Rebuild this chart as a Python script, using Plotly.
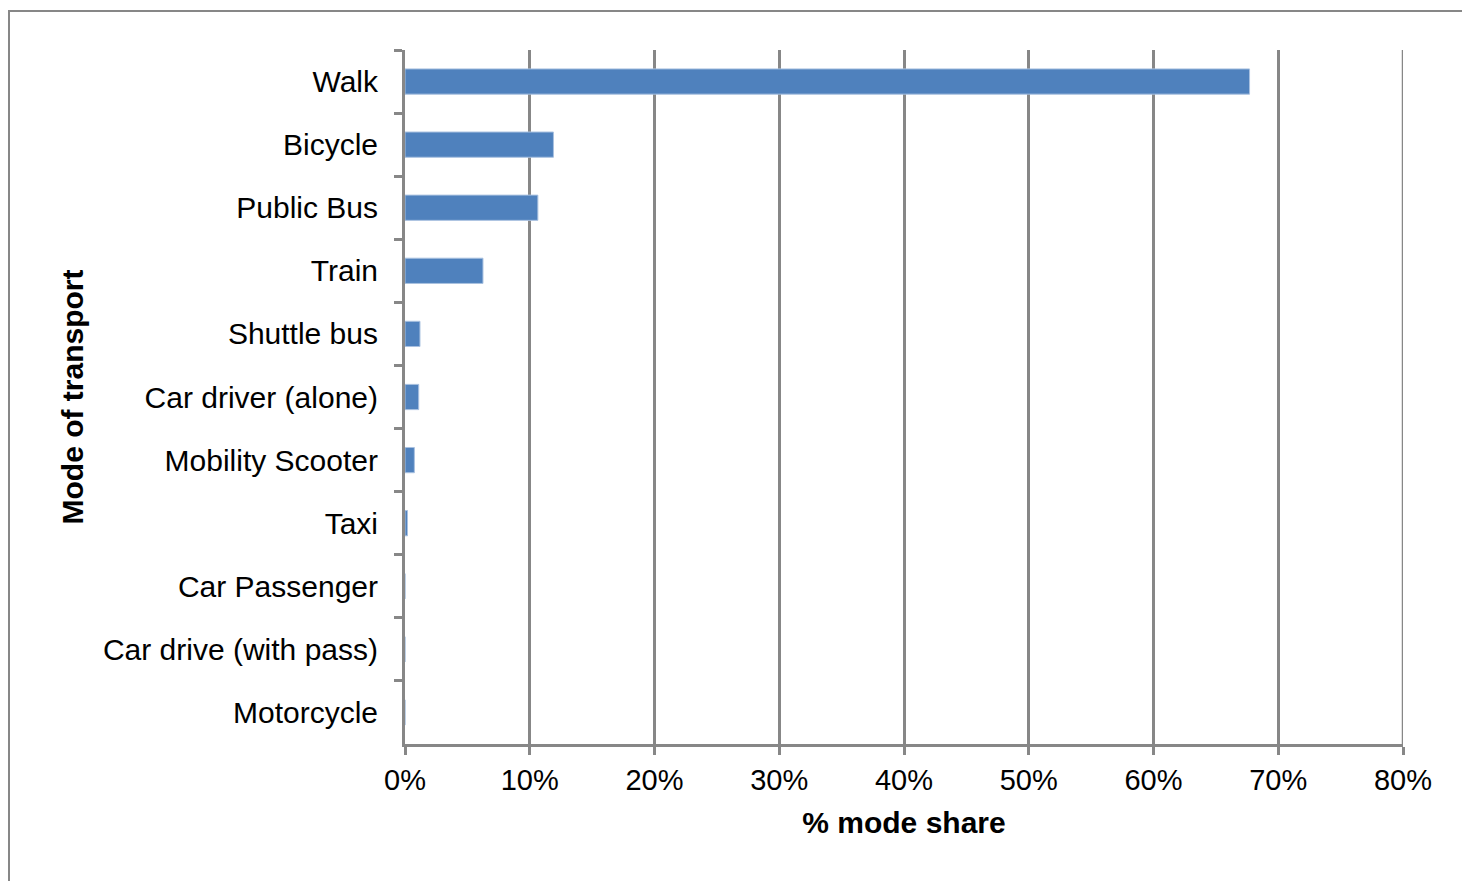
import plotly.graph_objects as go

categories = ["Walk", "Bicycle", "Public Bus", "Train", "Shuttle bus",
              "Car driver (alone)", "Mobility Scooter", "Taxi",
              "Car Passenger", "Car drive (with pass)", "Motorcycle"]
mode_share = [67.7, 11.9, 10.65, 6.25, 1.2, 1.1, 0.75, 0.2, 0.0, 0.0, 0.0]
x_ticks = [0, 10, 20, 30, 40, 50, 60, 70, 80]
x_tick_labels = [f"{v}%" for v in x_ticks]

FONT = "Liberation Sans, Arial, sans-serif"
GRAY = "#878787"

fig = go.Figure(go.Bar(
    y=categories, x=mode_share, orientation="h",
    marker=dict(color="#4F81BD", line=dict(color="#A9C1E0", width=1)),
))

fig.update_layout(
    width=1470, height=881,
    margin=dict(l=397, r=75, t=42, b=145),
    paper_bgcolor="white", plot_bgcolor="white",
    bargap=0.6, showlegend=False,
    font=dict(family=FONT, size=29, color="black"),
    shapes=[
        dict(type="rect", xref="paper", yref="paper",
             x0=-0.3968, x1=1.2, y0=-0.3, y1=1.0562,
             line=dict(color=GRAY, width=2), fillcolor="rgba(0,0,0,0)",
             layer="below"),
        dict(type="line", xref="x", yref="paper",
             x0=x_ticks[-1], x1=x_ticks[-1], y0=0, y1=1,
             line=dict(color=GRAY, width=2.5), layer="below"),
    ],
)

fig.update_xaxes(
    range=[0, 80], tickvals=x_ticks, ticktext=x_tick_labels,
    showgrid=True, gridcolor=GRAY, gridwidth=2.5,
    showline=True, linecolor=GRAY, linewidth=3,
    ticks="outside", ticklen=8, tickwidth=2.5, tickcolor=GRAY,
    ticklabelstandoff=0, zeroline=False,
    tickfont=dict(family=FONT, size=29),
    title=dict(text="<b>% mode share</b>", font=dict(family=FONT, size=30), standoff=18),
)
fig.update_yaxes(
    categoryorder="array", categoryarray=categories, autorange="reversed",
    showgrid=False, showline=True, linecolor=GRAY, linewidth=3,
    ticks="outside", ticklen=8, tickwidth=2.5, tickcolor=GRAY,
    tickson="boundaries", ticklabelstandoff=18,
    tickfont=dict(family=FONT, size=30),
    title=dict(text="<b>Mode of transport</b>", font=dict(family=FONT, size=30), standoff=11),
)

fig.write_html("out.html")
